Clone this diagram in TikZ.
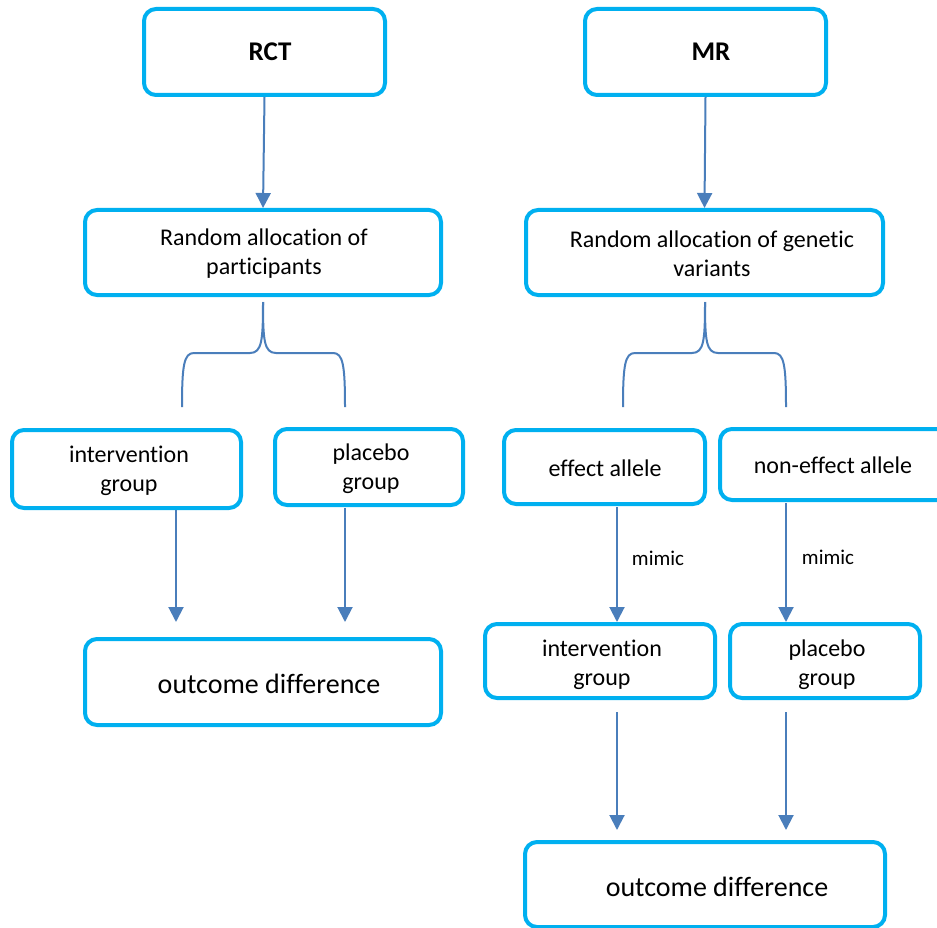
\documentclass[tikz,border=0pt]{standalone}
\usepackage{fontspec}
\setmainfont{Carlito}[Ligatures=NoCommon]
\usetikzlibrary{arrows.meta}
\definecolor{boxblue}{HTML}{00B0F0}
\definecolor{arrblue}{HTML}{4A7EBB}
\tikzset{
  boxnode/.style={draw=boxblue, line width=4pt, rounded corners=12pt, rectangle, inner sep=0pt, fill=white},
  txt/.style={inner sep=0pt, align=center, font=\fontsize{24}{29}\selectfont, text=black},
  bigtxt/.style={inner sep=0pt, font=\fontsize{28}{34}\selectfont, text=black},
  titletxt/.style={inner sep=0pt, font=\bfseries\fontsize{27}{32}\selectfont, text=black},
  smalltxt/.style={inner sep=0pt, font=\fontsize{21}{25}\selectfont, text=black},
  arr/.style={draw=arrblue, line width=2pt, -{Triangle[width=15pt,length=15pt]}},
  bracepath/.style={draw=arrblue, line width=2pt}
}
\begin{document}
\begin{tikzpicture}[x=1pt,y=-1pt]
\useasboundingbox (0,0) rectangle (937,928);
\clip (0,0) rectangle (937,928);
\fill[white] (0,0) rectangle (937,928);
% boxes
\node[boxnode, minimum width=241pt, minimum height=86pt] (rct) at (264.5,52) {};
\node[boxnode, minimum width=241pt, minimum height=86pt] (mr) at (705.5,52) {};
\node[boxnode, minimum width=356pt, minimum height=85pt] (rap) at (263,252.5) {};
\node[boxnode, minimum width=357pt, minimum height=85pt] (rag) at (704.5,252.5) {};
\node[boxnode, minimum width=229pt, minimum height=78pt] (ig1) at (126.5,469) {};
\node[boxnode, minimum width=188pt, minimum height=76pt] (pg1) at (369,467) {};
\node[boxnode, minimum width=356pt, minimum height=86pt] (od1) at (263,682) {};
\node[boxnode, minimum width=201pt, minimum height=74pt] (ea) at (604.5,467) {};
\node[boxnode, minimum width=238pt, minimum height=71pt] (nea) at (839,464.5) {};
\node[boxnode, minimum width=230pt, minimum height=74pt] (ig2) at (600,661) {};
\node[boxnode, minimum width=190pt, minimum height=74pt] (pg2) at (825,661) {};
\node[boxnode, minimum width=360pt, minimum height=85pt] (od2) at (705,884.5) {};
% texts
\node[titletxt] (trct) at (270,52) {RCT};
\node[titletxt] (tmr) at (711,52) {MR};
\node[txt] (trap) at (264,254) {Random allocation of\\participants};
\node[txt] (trag) at (712,254) {Random allocation of genetic\\variants};
\node[txt] (tig1) at (129,471) {intervention\\group};
\node[txt] (tpg1) at (371,469) {placebo\\group};
\node[txt] (tea) at (605,468) {effect allele};
\node[txt] (tnea) at (833,465) {non-effect allele};
\node[txt] (tig2) at (602,665) {intervention\\group};
\node[txt] (tpg2) at (827,665) {placebo\\group};
\node[smalltxt] (tm1) at (658,558) {mimic};
\node[smalltxt] (tm2) at (828,557) {mimic};
\node[bigtxt] (tod1) at (269,684) {outcome difference};
\node[bigtxt] (tod2) at (717,887) {outcome difference};
% arrow end coordinates
\coordinate (l1s) at (176,510);
\coordinate (l1e) at (176,622);
\coordinate (l2s) at (345,508);
\coordinate (l2e) at (345,622);
\coordinate (m1s) at (617,507);
\coordinate (m1e) at (617,622);
\coordinate (m2s) at (786,503);
\coordinate (m2e) at (786,622);
\coordinate (b1s) at (617,712);
\coordinate (b1e) at (617,830);
\coordinate (b2s) at (786,712);
\coordinate (b2e) at (786,830);
% arrows
\draw[arr] (rct.south) -- (rap.north);
\draw[arr] (mr.south) -- (rag.north);
\draw[arr] (l1s) -- (l1e);
\draw[arr] (l2s) -- (l2e);
\draw[arr] (m1s) -- (m1e);
\draw[arr] (m2s) -- (m2e);
\draw[arr] (b1s) -- (b1e);
\draw[arr] (b2s) -- (b2e);
% braces
\draw[bracepath] (263,302) .. controls (263,340) and (262,353) .. (250,353) -- (194,353) .. controls (184,353) and (182,365) .. (182,407);
\draw[bracepath] (263,302) .. controls (263,340) and (264,353) .. (276,353) -- (333,353) .. controls (343,353) and (345,365) .. (345,407);
\draw[bracepath] (705,302) .. controls (705,340) and (704,353) .. (692,353) -- (635,353) .. controls (625,353) and (623,365) .. (623,407);
\draw[bracepath] (705,302) .. controls (705,340) and (706,353) .. (718,353) -- (774,353) .. controls (784,353) and (786,365) .. (786,407);
\end{tikzpicture}
\end{document}
